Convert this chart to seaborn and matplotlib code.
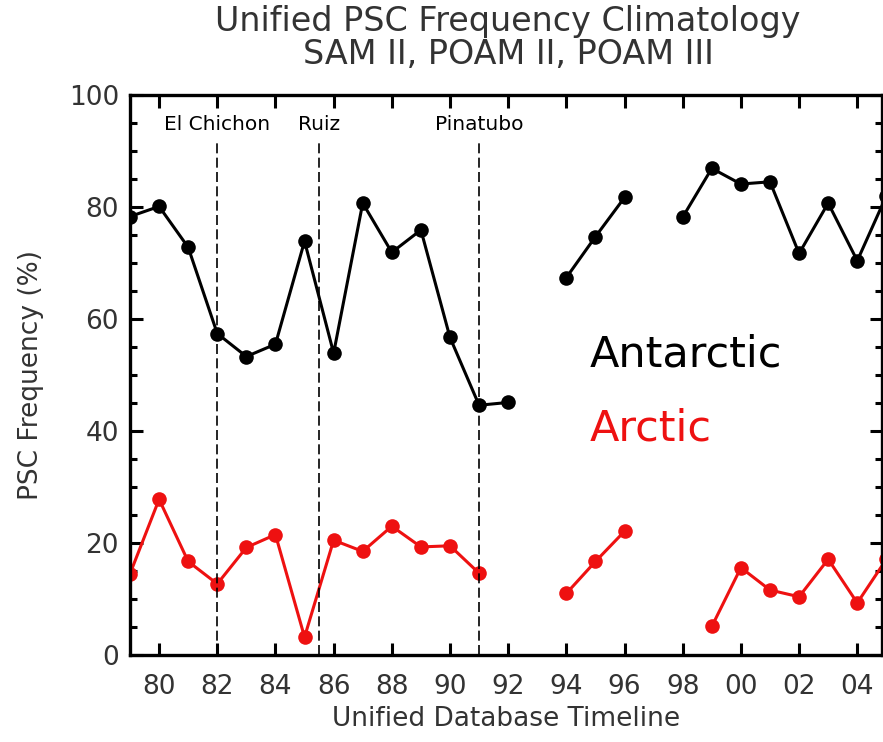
import matplotlib
matplotlib.use("Agg")
import matplotlib.pyplot as plt
import numpy as np
import pandas as pd
import seaborn as sns
from matplotlib.ticker import MultipleLocator, FuncFormatter

years = list(range(1979, 2006))

# NaN marks the years with no data (line breaks there)
antarctic = [78.3, 80.1, 72.8, 57.4, 53.3, 55.5, 73.9, 53.9, 80.7, 71.9, 75.9,
             56.7, 44.6, 45.1, np.nan, 67.4, 74.7, 81.7, np.nan, 78.2, 86.9,
             84.1, 84.5, 71.7, 80.7, 70.4, 82.0]
arctic = [14.5, 27.8, 16.7, 12.7, 19.2, 21.5, 3.2, 20.5, 18.5, 23.0, 19.3,
          19.5, 14.6, np.nan, np.nan, 11.0, 16.7, 22.1, np.nan, np.nan, 5.1,
          15.6, 11.6, 10.4, 17.1, 9.3, 17.1]

volcano_names = ["El Chichon", "Ruiz", "Pinatubo"]
volcano_years = [1982.0, 1985.5, 1991.0]


def to_long(vals, region):
    df = pd.DataFrame({"year": years, "freq": vals})
    df["seg"] = df["freq"].isna().cumsum()
    df = df.dropna()
    df["region"] = region
    df["seg"] = region + df["seg"].astype(str)
    return df


data = pd.concat([to_long(antarctic, "Antarctic"), to_long(arctic, "Arctic")])

sns.set_style("ticks")
plt.rcParams["font.family"] = ["DejaVu Sans"]

fig = plt.figure(figsize=(8.83, 7.42), dpi=100)
ax = fig.add_axes([130 / 883, 87 / 742, 752 / 883, 560 / 742])

sns.lineplot(data=data, x="year", y="freq", hue="region", units="seg",
             estimator=None, palette={"Antarctic": "black", "Arctic": "#ee1111"},
             marker="o", markersize=10.5, markeredgewidth=0, linewidth=2.2,
             legend=False, ax=ax)

for name, yr in zip(volcano_names, volcano_years):
    ax.vlines(yr, 0, 92, colors="black", linewidth=1.2,
              linestyles=(0, (6, 2.6)))
    ax.text(yr, 94.8, name, ha="center", va="center", fontsize=14.5,
            color="black")

ax.text(1994.8, 53.6, "Antarctic", fontsize=31, color="black",
        ha="left", va="center")
ax.text(1994.8, 40.5, "Arctic", fontsize=31, color="#ee1111",
        ha="left", va="center")

ax.set_xlim(1979, 2004.85)
ax.set_ylim(0, 100)
ax.xaxis.set_major_locator(MultipleLocator(2))
ax.xaxis.set_major_formatter(FuncFormatter(lambda v, p: "%02d" % (int(round(v)) % 100)))
ax.yaxis.set_major_locator(MultipleLocator(20))
ax.yaxis.set_minor_locator(MultipleLocator(5))

ax.tick_params(which="both", direction="in", top=True, right=True,
               colors="black", width=2.2, labelcolor="#333333", labelsize=19)
ax.tick_params(which="major", length=9)
ax.tick_params(axis="x", which="major", pad=14)
ax.tick_params(axis="y", which="major", pad=8)
ax.tick_params(which="minor", length=5)
for s in ax.spines.values():
    s.set_linewidth(2.4)
    s.set_color("black")

ax.set_xlabel("Unified Database Timeline", fontsize=19, color="#333333",
              labelpad=4)
ax.set_ylabel("PSC Frequency (%)", fontsize=19, color="#333333", labelpad=18)

fig.text(508 / 883, 1 - 38 / 742,
         "Unified PSC Frequency Climatology\nSAM II, POAM II, POAM III",
         ha="center", va="center", fontsize=24, color="#333333",
         linespacing=1.0)

fig.savefig("out.png", dpi=100)
